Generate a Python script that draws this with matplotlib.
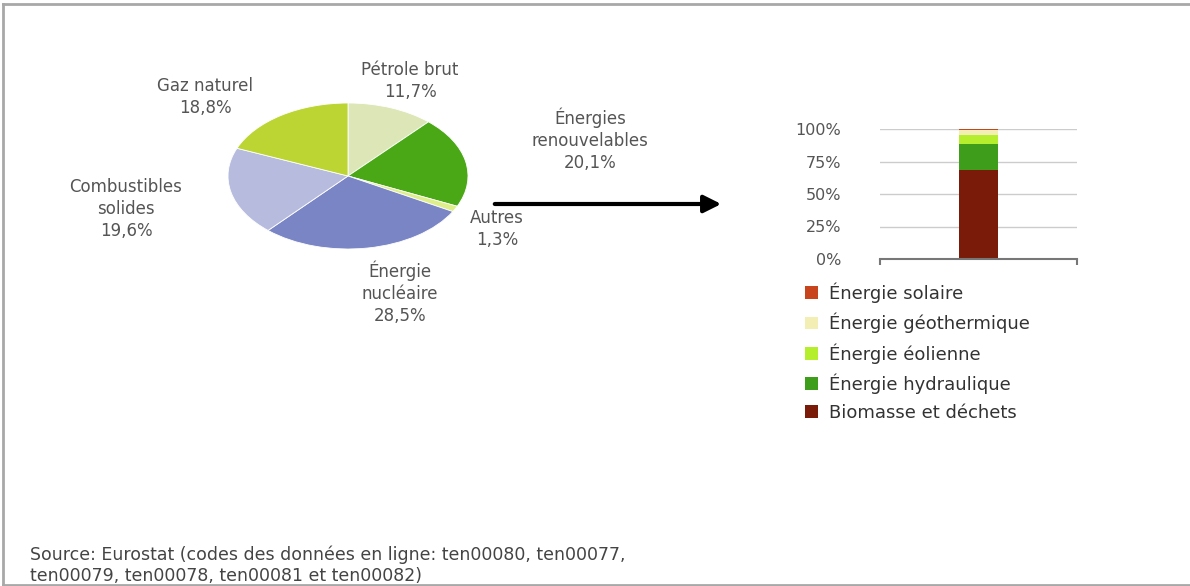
import matplotlib
matplotlib.use("Agg")
import matplotlib.pyplot as plt
from matplotlib.lines import Line2D
from matplotlib.patches import FancyArrowPatch

# Gross inland consumption by fuel (%)
pie_labels = ["Pétrole brut", "Énergies\nrenouvelables", "Autres",
              "Énergie\nnucléaire", "Combustibles\nsolides", "Gaz naturel"]
pie_values = [11.7, 20.1, 1.3, 28.5, 19.6, 18.8]
pie_colors = ["#DDE6B6", "#4AA816", "#DDEE8A", "#7A85C6", "#B7BBDE", "#BDD533"]

# Renewables breakdown (%), bottom to top
ren_labels = ["Biomasse et déchets", "Énergie hydraulique", "Énergie éolienne",
              "Énergie géothermique", "Énergie solaire"]
ren_values = [68.6, 19.5, 7.0, 3.8, 1.1]
ren_colors = ["#7A1A08", "#3E9E1C", "#B4EE2C", "#F3EEB4", "#C8441C"]

yticks = [0, 25, 50, 75, 100]

W, H = 1190, 586
fig = plt.figure(figsize=(W / 100, H / 100), dpi=100)
fig.patch.set_facecolor("white")


def fx(x):
    return x / W


def fy(y):
    return 1 - y / H


txt = dict(family="DejaVu Sans", color="#555555", fontsize=12)

# pie, squashed into an ellipse
cx, cy, rx, ry = 348, 176, 120, 73
ax_pie = fig.add_axes([fx(cx - rx), fy(cy + ry), 2 * rx / W, 2 * ry / H])
ax_pie.pie(pie_values, colors=pie_colors, startangle=90, counterclock=False,
           wedgeprops=dict(edgecolor="white", linewidth=0.6))
ax_pie.set_aspect("auto")
ax_pie.set_xlim(-1, 1)
ax_pie.set_ylim(-1, 1)
ax_pie.axis("off")

label_pos = [(410, 81), (590, 140), (497, 229), (400, 293), (126, 209), (205, 97)]
for lab, val, (px, py) in zip(pie_labels, pie_values, label_pos):
    s = lab + "\n" + f"{val:.1f}%".replace(".", ",")
    fig.text(fx(px), fy(py), s, ha="center", va="center",
             multialignment="center", linespacing=1.3, **txt)

# arrow towards the breakdown
arrow = FancyArrowPatch((fx(492), fy(204)), (fx(724), fy(204)),
                        transform=fig.transFigure, arrowstyle="-|>",
                        mutation_scale=26, linewidth=3, color="black")
fig.add_artist(arrow)

# stacked 100 % bar
ax_bar = fig.add_axes([fx(880), fy(259), 197 / W, 130 / H])
bottom = 0
handles = []
for lab, val, col in zip(ren_labels, ren_values, ren_colors):
    b = ax_bar.bar(0.5, val, width=0.2, bottom=bottom, color=col, label=lab)
    handles.append(b)
    bottom += val
ax_bar.set_xlim(0, 1)
ax_bar.set_ylim(0, 100)
ax_bar.set_yticks(yticks)
ax_bar.set_yticklabels([f"{t}%" for t in yticks], family="DejaVu Sans",
                       color="#555555", fontsize=11.5)
ax_bar.tick_params(axis="y", length=0, pad=28)
ax_bar.set_xticks([0, 1])
ax_bar.set_xticklabels([])
ax_bar.tick_params(axis="x", direction="out", length=4, color="#777777", width=1.5)
ax_bar.grid(axis="y", color="#CCCCCC", linewidth=1)
ax_bar.set_axisbelow(True)
for side in ["left", "right", "top"]:
    ax_bar.spines[side].set_visible(False)
ax_bar.spines["bottom"].set_color("#777777")
ax_bar.spines["bottom"].set_linewidth(1.5)

leg = fig.legend(handles[::-1], ren_labels[::-1], loc="upper left",
                 bbox_to_anchor=(fx(798), fy(275)), frameon=False,
                 handlelength=0.7, handleheight=0.7, handletextpad=0.6,
                 labelspacing=0.55, borderaxespad=0,
                 prop=dict(family="DejaVu Sans", size=13))
for t in leg.get_texts():
    t.set_color("#333333")

# source note
src = {**txt, "fontsize": 12.5, "color": "#444444"}
fig.text(fx(30), fy(555), "Source: Eurostat (codes des données en ligne: ten00080, ten00077,",
         ha="left", va="center", **src)
fig.text(fx(30), fy(576), "ten00079, ten00078, ten00081 et ten00082)",
         ha="left", va="center", **src)

# frame lines
frame = dict(color="#A8A8A8", linewidth=2, transform=fig.transFigure)
fig.add_artist(Line2D([fx(3), fx(1190)], [fy(4), fy(4)], **frame))
fig.add_artist(Line2D([fx(3), fx(3)], [fy(4), fy(585)], **frame))
fig.add_artist(Line2D([fx(3), fx(1190)], [fy(585), fy(585)], **frame))

fig.savefig("out.png", dpi=100)
